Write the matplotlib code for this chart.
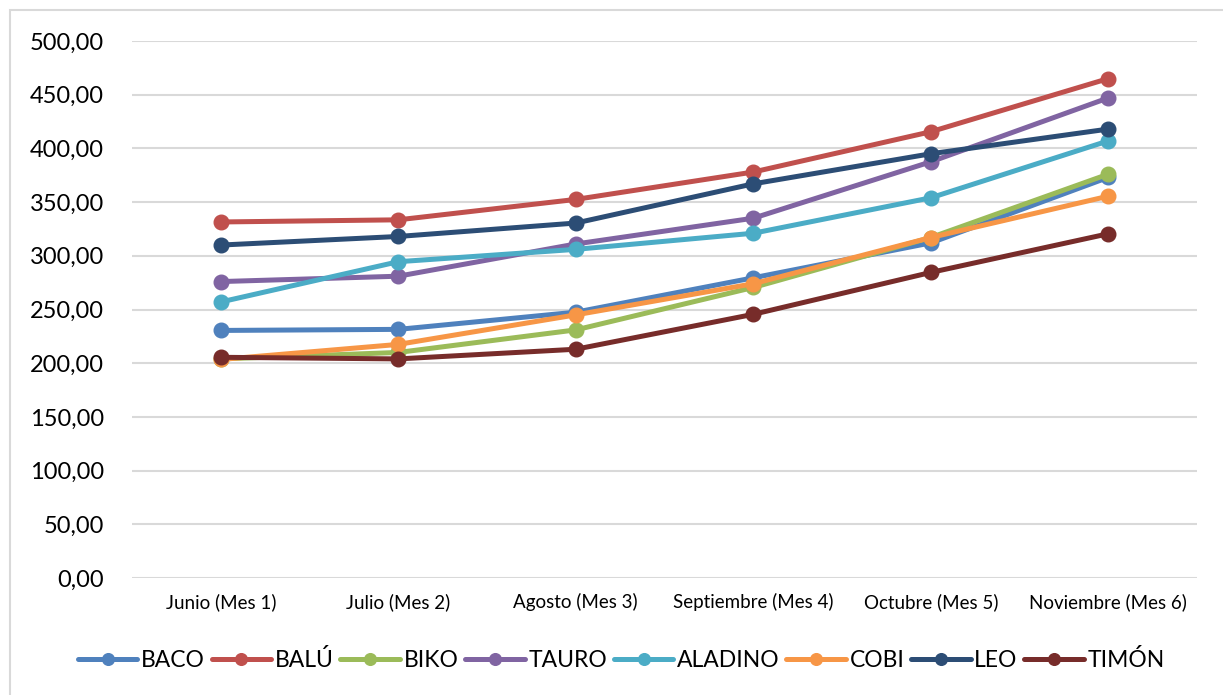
import matplotlib
matplotlib.use("Agg")
import matplotlib.pyplot as plt
from matplotlib.patches import Rectangle
from matplotlib.ticker import FuncFormatter

plt.rcParams['font.family'] = ['Lato', 'DejaVu Sans']

months = ["Junio (Mes 1)", "Julio (Mes 2)", "Agosto (Mes 3)", "Septiembre (Mes 4)",
          "Octubre (Mes 5)", "Noviembre (Mes 6)"]
baco = [230.5, 231.5, 247.5, 279.5, 312, 373]
balu = [331.5, 333.5, 352.5, 378, 415.5, 465]
biko = [204, 210, 231, 270.5, 317, 376]
tauro = [276, 281, 311, 335, 387.5, 447]
aladino = [257, 294.5, 306, 321, 354, 407]
cobi = [203.5, 217.5, 245, 274, 317, 355.5]
leo = [310, 318, 330.5, 367, 395, 418]
timon = [205.5, 204, 213, 245.5, 284.5, 320.5]

series = [("BACO", baco, "#4F81BD"), ("BALÚ", balu, "#C0504D"), ("BIKO", biko, "#9BBB59"),
          ("TAURO", tauro, "#8064A2"), ("ALADINO", aladino, "#4BACC6"), ("COBI", cobi, "#F79646"),
          ("LEO", leo, "#2C4D75"), ("TIMÓN", timon, "#772C2A")]

W, H = 1223, 695
fig = plt.figure(figsize=(W / 100, H / 100), dpi=100)
fig.patches.append(Rectangle((10 / W, -0.05), 1.2, 1 - 10 / H + 0.05, transform=fig.transFigure,
                             fill=False, edgecolor="#d9d9d9", linewidth=1.5))
ax = fig.add_axes([132 / W, 1 - 578 / H, (1197 - 132) / W, (578 - 41) / H])

x = list(range(len(months)))
for name, vals, col in series:
    ax.plot(x, vals, color=col, linewidth=3.6, marker="o", markersize=10.5,
            solid_capstyle="round", label=name)

ax.set_xlim(-0.5, len(months) - 0.5)
ax.set_ylim(0, 500)
ax.set_yticks(range(0, 501, 50))
ax.yaxis.set_major_formatter(FuncFormatter(lambda v, p: f"{v:.2f}".replace(".", ",")))
ax.set_xticks(x)
ax.set_xticklabels(months, fontsize=13.5)
ax.tick_params(axis="y", labelsize=17, length=0, pad=20)
ax.tick_params(axis="x", length=0, pad=11)
ax.grid(axis="y", color="#d9d9d9", linewidth=1.5)
ax.set_axisbelow(True)
for s in ax.spines.values():
    s.set_visible(False)

leg = fig.legend(loc="center", bbox_to_anchor=(0.508, 1 - 660 / H), ncol=8, frameon=False,
                 fontsize=16.5, handlelength=2.6, handletextpad=0.15, columnspacing=0.3,
                 markerscale=0.8)

fig.savefig("out.png", dpi=100)
